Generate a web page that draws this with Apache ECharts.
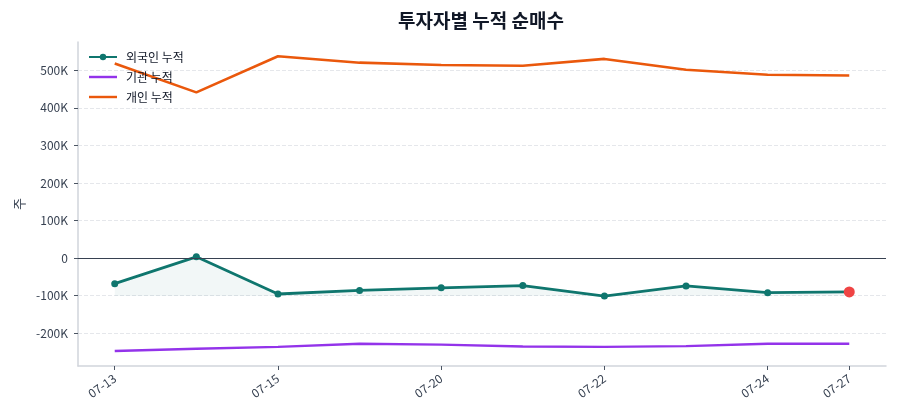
<!DOCTYPE html>
<html>
<head>
<meta charset="UTF-8">
<title>투자자별 누적 순매수</title>
<script src="https://cdn.jsdelivr.net/npm/echarts@6/dist/echarts.min.js"></script>
<style>
html, body { margin: 0; padding: 0; background: #fff; }
#chart { width: 900px; height: 420px; }
</style>
</head>
<body>
<div id="chart"></div>
<script>
// 날짜 (라벨은 0,2,4,6,8,9번째만 표시)
var dates = ['07-13', '07-14', '07-15', '07-16', '07-20', '07-21', '07-22', '07-23', '07-24', '07-27'];
var shownIdx = [0, 2, 4, 6, 8, 9];
var foreignCum = [-68000, 3500, -95500, -86000, -79000, -73000, -101000, -74000, -92000, -90000];
var instCum = [-247000, -241000, -236000, -228000, -230000, -235000, -236000, -234000, -228000, -228000];
var retailCum = [518000, 441000, 537000, 520000, 514000, 512000, 530000, 501000, 488000, 486000];
var yTicks = [-200000, -100000, 0, 100000, 200000, 300000, 400000, 500000];

var font = 'Noto Sans CJK KR';
var myChart = echarts.init(document.getElementById('chart'));

function pairs(arr) {
  return arr.map(function (v, i) { return [i, v]; });
}

var foreignData = pairs(foreignCum);
var last = foreignData.length - 1;
foreignData[last] = {
  value: foreignData[last],
  symbolSize: 11,
  itemStyle: { color: '#ef4444' }
};

// 선만 있는 범례 아이콘
var lineIcon = 'path://M0,0 L30,0 L30,2.6 L0,2.6 Z';

var option = {
  animation: false,
  textStyle: { fontFamily: font },
  title: {
    text: '투자자별 누적 순매수',
    left: 476,
    textAlign: 'center',
    top: 6,
    textStyle: { fontFamily: font, fontSize: 19, fontWeight: 'bold', color: '#111827' }
  },
  legend: {
    orient: 'vertical',
    left: 83,
    top: 46,
    itemWidth: 28,
    itemHeight: 8,
    itemGap: 8,
    textStyle: { fontFamily: font, fontSize: 12, color: '#111827', padding: [0, 0, 0, 4] },
    data: [
      { name: '외국인 누적' },
      { name: '기관 누적', icon: lineIcon },
      { name: '개인 누적', icon: lineIcon }
    ]
  },
  grid: { left: 78, right: 14, top: 42, bottom: 54 },
  xAxis: {
    type: 'value',
    min: -0.45,
    max: 9.45,
    splitLine: { show: false },
    axisLine: { show: true, onZero: false, lineStyle: { color: '#d1d5db', width: 1.5 } },
    axisTick: { show: true, length: 4, customValues: shownIdx, lineStyle: { color: '#4b5563' } },
    axisLabel: {
      customValues: shownIdx,
      rotate: 35,
      fontFamily: font,
      fontSize: 12,
      color: '#374151',
      margin: 11,
      formatter: function (v) { return dates[Math.round(v)]; }
    }
  },
  yAxis: {
    type: 'value',
    min: -287000,
    max: 575000,
    name: '주',
    nameLocation: 'middle',
    nameGap: 51,
    nameTextStyle: { fontFamily: font, fontSize: 13, color: '#374151' },
    axisLine: { show: true, onZero: false, lineStyle: { color: '#d1d5db', width: 1.5 } },
    axisTick: { show: true, length: 4, customValues: yTicks, lineStyle: { color: '#4b5563' } },
    splitLine: { show: true, lineStyle: { color: '#e5e7eb', type: 'dashed' } },
    axisLabel: {
      customValues: yTicks,
      fontFamily: font,
      fontSize: 12,
      color: '#374151',
      margin: 10,
      formatter: function (v) { return v === 0 ? '0' : (v / 1000) + 'K'; }
    }
  },
  series: [
    {
      name: '외국인 누적',
      type: 'line',
      data: foreignData,
      symbol: 'circle',
      symbolSize: 7,
      lineStyle: { color: '#0f766e', width: 2.8 },
      itemStyle: { color: '#0f766e' },
      areaStyle: { color: 'rgba(15,118,110,0.08)', origin: Math.min.apply(null, foreignCum) },
      z: 4,
      markLine: {
        silent: true,
        symbol: 'none',
        label: { show: false },
        lineStyle: { color: '#374151', width: 1.2, type: 'solid' },
        data: [{ yAxis: 0 }]
      }
    },
    {
      name: '기관 누적',
      type: 'line',
      data: pairs(instCum),
      symbol: 'none',
      lineStyle: { color: '#9333ea', width: 2.4 },
      itemStyle: { color: '#9333ea' },
      z: 3
    },
    {
      name: '개인 누적',
      type: 'line',
      data: pairs(retailCum),
      symbol: 'none',
      lineStyle: { color: '#ea580c', width: 2.6 },
      itemStyle: { color: '#ea580c' },
      z: 3
    }
  ]
};

myChart.setOption(option);
</script>
</body>
</html>
